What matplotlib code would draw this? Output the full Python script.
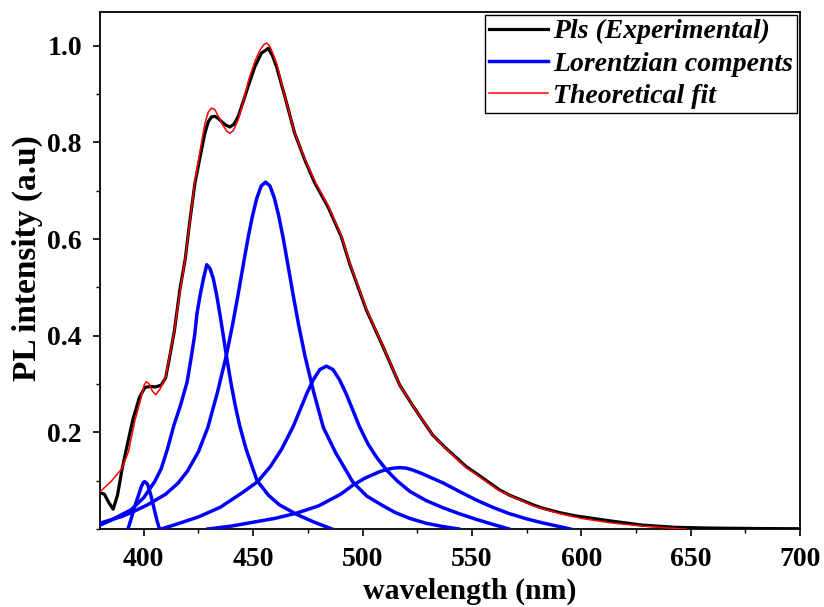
import matplotlib
matplotlib.use("Agg")
import matplotlib.pyplot as plt
from matplotlib.ticker import MultipleLocator

plt.rcParams['font.family'] = ['Liberation Serif', 'DejaVu Serif']
plt.rcParams['font.weight'] = 'bold'

# Experimental PL spectrum (wavelength nm, intensity)
exp_nm = [380, 382, 384, 386, 388, 390, 392.5, 395, 398, 400.5, 403, 405.5, 408, 410,
          412, 414, 416.5, 419, 421, 423.4, 426.4, 428, 429.5, 431, 432.5, 434, 435.6,
          437.5, 439.4, 441.3, 443.2, 445.5, 447.7, 450.8, 453.8, 455.5, 456.9, 458.8,
          460.7, 464.5, 469, 473.6, 478.2, 484.2, 490.3, 494.2, 501.8, 509.4, 517,
          521.6, 527, 532, 537, 547.4, 552, 562.6, 567.2, 578, 582.4, 590, 597.6, 612.9,
          628, 643, 658, 680, 700]
exp_int = [0.075, 0.072, 0.055, 0.041, 0.07, 0.122, 0.175, 0.226, 0.272, 0.293, 0.295,
           0.294, 0.298, 0.313, 0.36, 0.41, 0.495, 0.56, 0.635, 0.716, 0.785, 0.82, 0.843,
           0.853, 0.854, 0.85, 0.843, 0.836, 0.832, 0.838, 0.854, 0.885, 0.916, 0.957,
           0.985, 0.99, 0.995, 0.98, 0.957, 0.895, 0.819, 0.764, 0.716, 0.667, 0.605,
           0.548, 0.453, 0.377, 0.298, 0.265, 0.228, 0.195, 0.172, 0.129, 0.115, 0.081,
           0.07, 0.05, 0.043, 0.034, 0.027, 0.017, 0.008, 0.0035, 0.002, 0.001, 0.0005]

# Theoretical fit
fit_nm = [380, 385, 390, 393, 396, 399, 400.2, 401.2, 402.5, 404, 405.5, 407.5, 410, 414,
          416.5, 419, 423.4, 426.4, 428, 429.5, 431, 432.5, 434, 436, 438, 439.4, 441,
          443, 445, 448, 451, 453, 454.8, 456.1, 457.5, 459, 461, 464.5, 469, 473.6,
          478.2, 484.2, 490.3, 494.2, 501.8, 509.4, 517, 521.6, 527, 532, 537, 547.4,
          562.6, 578, 590, 600, 612.9, 628, 640, 648]
fit_int = [0.077, 0.098, 0.125, 0.16, 0.225, 0.275, 0.298, 0.305, 0.3, 0.285, 0.278,
           0.29, 0.315, 0.41, 0.49, 0.56, 0.72, 0.8, 0.84, 0.863, 0.871, 0.868, 0.855,
           0.837, 0.823, 0.819, 0.825, 0.845, 0.875, 0.93, 0.97, 0.99, 1.002, 1.006,
           1.0, 0.985, 0.96, 0.895, 0.82, 0.766, 0.72, 0.67, 0.607, 0.55, 0.455, 0.378,
           0.298, 0.265, 0.228, 0.195, 0.171, 0.127, 0.079, 0.048, 0.032, 0.022, 0.013,
           0.006, 0.002, 0.0]

# Lorentzian components
peak1_nm = [392.8, 394.5, 395.8, 397.4, 398.9, 399.8, 400.4, 401.1, 401.9, 403.4, 404.9,
            406, 407.2]
peak1_int = [0.0, 0.025, 0.046, 0.067, 0.088, 0.096, 0.098, 0.096, 0.091, 0.067, 0.039,
             0.018, 0.0]

peak2_nm = [380, 385, 390, 394.3, 400, 405, 408, 410.8, 413.8, 416.8, 419.8, 421.8, 423.3,
            424.3, 425.8, 427.3, 428.8, 430.3, 431.8, 433.3, 434.8, 436.3, 437.8, 439.8,
            441.8, 443.8, 446.8, 451.8, 457, 462, 470, 478, 486]
peak2_int = [0.008, 0.018, 0.03, 0.04, 0.065, 0.098, 0.125, 0.165, 0.215, 0.256, 0.304,
             0.358, 0.402, 0.445, 0.485, 0.518, 0.547, 0.539, 0.518, 0.485, 0.445, 0.402,
             0.358, 0.304, 0.256, 0.215, 0.165, 0.1, 0.07, 0.05, 0.03, 0.014, 0.0]

peak3_nm = [380, 390, 394.3, 401.7, 410, 415.7, 420, 425, 429.3, 433.7, 437.7, 440.7,
            443.2, 445.7, 447.7, 449.7, 451.7, 453.7, 455.7, 457.7, 459.7, 461.7, 463.7,
            465.7, 468.2, 470.7, 473.7, 477.7, 482.1, 487.7, 495.6, 502, 509.4, 515,
            521.6, 529, 536.8, 544]
peak3_int = [0.012, 0.026, 0.034, 0.05, 0.072, 0.095, 0.12, 0.16, 0.21, 0.283, 0.358,
             0.425, 0.487, 0.552, 0.603, 0.648, 0.685, 0.71, 0.718, 0.71, 0.685, 0.648,
             0.603, 0.552, 0.487, 0.425, 0.358, 0.283, 0.21, 0.158, 0.097, 0.068, 0.048,
             0.034, 0.022, 0.012, 0.005, 0.0]

peak4_nm = [408, 415, 425, 435, 445, 452.1, 458, 463, 468.4, 471.5, 474.5, 477.5, 480.5,
            483.5, 486.5, 489.5, 492.5, 495.5, 498.5, 502.5, 506.5, 511, 516, 521.6, 529,
            536.8, 544, 552, 560, 567]
peak4_int = [0.0, 0.01, 0.025, 0.045, 0.075, 0.098, 0.13, 0.165, 0.213, 0.247, 0.28,
             0.309, 0.33, 0.337, 0.33, 0.309, 0.28, 0.247, 0.213, 0.176, 0.148, 0.122,
             0.099, 0.078, 0.059, 0.044, 0.032, 0.02, 0.009, 0.0]

peak5_nm = [429.3, 440, 450, 460, 470, 480, 490, 495.7, 501, 505, 508, 511, 514, 517, 520,
            523, 527, 532, 537, 545, 552, 560, 567, 575, 582, 590, 595]
peak5_int = [0.0, 0.006, 0.014, 0.022, 0.033, 0.048, 0.072, 0.091, 0.105, 0.113, 0.119,
             0.123, 0.126, 0.127, 0.126, 0.122, 0.115, 0.105, 0.095, 0.076, 0.06, 0.044,
             0.032, 0.021, 0.013, 0.005, 0.0]

components = [(peak1_nm, peak1_int), (peak2_nm, peak2_int), (peak3_nm, peak3_int),
              (peak4_nm, peak4_int), (peak5_nm, peak5_int)]

fig = plt.figure(figsize=(8.24, 6.07), dpi=100)
ax = fig.add_axes([100 / 824, 78 / 607, 700 / 824, 517 / 607])

ax.plot(exp_nm, exp_int, color='black', lw=2.3, label='Pls (Experimental)', zorder=2)
for i, (xs, ys) in enumerate(components):
    ax.plot(xs, ys, color='#0000ff', lw=2.5, zorder=3, solid_joinstyle='round',
            label='Lorentzian compents' if i == 0 else None)
ax.plot(fit_nm, fit_int, color='#ff0000', lw=1.1, label='Theoretical fit', zorder=4)

ax.set_xlim(380, 700)
ax.set_ylim(0, 1.07)
ax.set_xticks([400, 450, 500, 550, 600, 650, 700])
ax.xaxis.set_minor_locator(MultipleLocator(25))
ax.set_yticks([0.2, 0.4, 0.6, 0.8, 1.0])
ax.yaxis.set_minor_locator(MultipleLocator(0.1))
ax.tick_params(which='major', direction='out', length=5, width=1.2, labelsize=20, pad=8)
ax.tick_params(which='minor', direction='out', length=3, width=1.0)
for lab in ax.get_xticklabels() + ax.get_yticklabels():
    lab.set_fontweight('bold')
for s in ax.spines.values():
    s.set_linewidth(1.3)

fig.text(470 / 824, 1 - 599 / 607, 'wavelength (nm)', ha='center', va='baseline',
         fontsize=21.5, fontweight='bold')
fig.text(27 / 824, 1 - 258 / 607, 'PL intensity (a.u)', ha='center', va='center',
         rotation=90, fontsize=24, fontweight='bold')

leg = ax.legend(loc='upper right', frameon=True, fancybox=False,
                borderaxespad=0.1, handlelength=2.1, handletextpad=0.2,
                labelspacing=0.25, borderpad=0.15,
                prop={'family': ['Liberation Serif', 'DejaVu Serif'], 'style': 'italic',
                      'weight': 'bold', 'size': 20})
leg.get_frame().set_edgecolor('black')
leg.get_frame().set_linewidth(1.0)
leg.get_frame().set_alpha(1)

fig.savefig('out.png', dpi=100)
